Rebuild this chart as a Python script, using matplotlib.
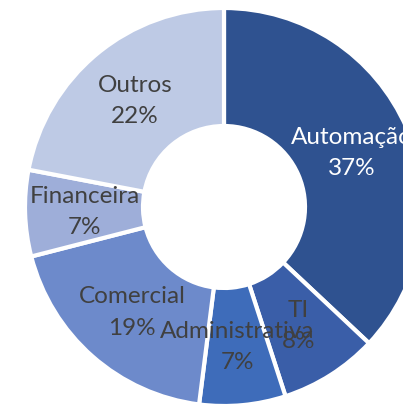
import matplotlib
matplotlib.use("Agg")
import matplotlib.pyplot as plt

W, H = 403, 406

categorias = ["Automação", "TI", "Administrativa", "Comercial", "Financeira", "Outros"]
valores = [37, 8, 7, 19, 7, 22]
cores = ["#2F5290", "#3A5EA8", "#3E6CBA", "#6D8ACB", "#9EAED9", "#BECAE5"]
cor_texto = ["white", "#404040", "#404040", "#404040", "#404040", "#404040"]

fig = plt.figure(figsize=(W / 100, H / 100), dpi=100)
ax = fig.add_axes([0, 0, 1, 1])

R = 199
cx, cy = 224, H - 208

wedges, _, autotexts = ax.pie(
    valores, colors=cores, startangle=90, counterclock=False,
    radius=R, center=(cx, cy), autopct="%d%%", pctdistance=0.70,
    wedgeprops=dict(width=R - 81, edgecolor="white", linewidth=3),
    frame=True,
)
ax.set_aspect("equal")
ax.set_xlim(0, W)
ax.set_ylim(0, H)
ax.axis("off")

for t, nome, v, c in zip(autotexts, categorias, valores, cor_texto):
    t.set_text(f"{nome}\n{v}%")
    t.set_color(c)
    t.set_fontfamily("Lato")
    t.set_fontsize(17.5)
    t.set_linespacing(1.6)

fig.savefig("out.png", dpi=100, facecolor="white")
